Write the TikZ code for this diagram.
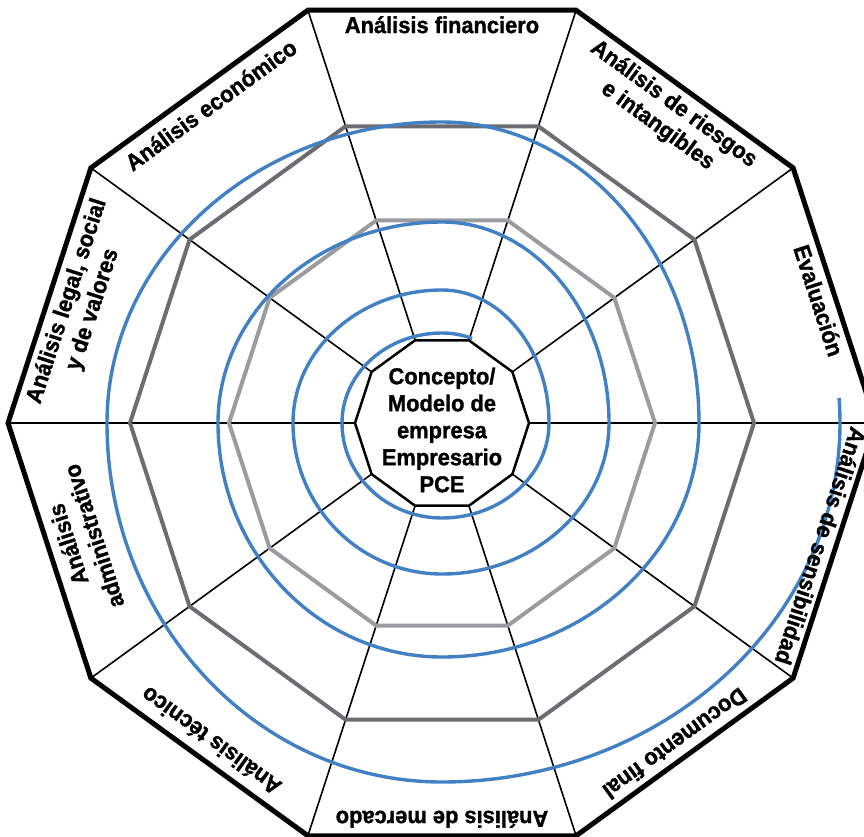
\documentclass[tikz,border=0pt]{standalone}
\usepackage{fontspec}
\setmainfont{Liberation Sans}[BoldFeatures={FakeBold=1.3, FakeStretch=0.95}]
\definecolor{spblue}{RGB}{66,128,196}
\definecolor{dgray}{RGB}{108,109,113}
\definecolor{lgray}{RGB}{155,156,159}
\begin{document}
\begin{tikzpicture}[x=1pt,y=1pt,
  spoke/.style={line width=1.6pt, black},
  graypoly/.style={line width=4pt, line join=miter},
  spiral/.style={line width=3.4pt, spblue},
  outerpoly/.style={line width=5pt, line join=miter, black},
  innerpoly/.style={line width=2.5pt, line join=miter, black, fill=white},
  lbl/.style={anchor=north, inner sep=0pt, align=center, font=\fontsize{23}{27}\selectfont\bfseries},
  ctext/.style={inner sep=0pt, align=center, font=\fontsize{23}{27}\selectfont\bfseries}]
\useasboundingbox (-442,-413) rectangle (422,423);
\foreach \k in {0,...,9} {
  \coordinate (i\k) at ({36*\k}:87);
  \coordinate (o\k) at ({36*\k}:434);
  \coordinate (d\k) at ({36*\k}:312);
  \coordinate (l\k) at ({36*\k}:213);
}
% spokes
\foreach \k in {0,...,9} { \draw[spoke] (i\k) -- (o\k); }
% gray decagons
\draw[graypoly, dgray] (d0) -- (d1) -- (d2) -- (d3) -- (d4) -- (d5) -- (d6) -- (d7) -- (d8) -- (d9) -- cycle;
\draw[graypoly, lgray] (l0) -- (l1) -- (l2) -- (l3) -- (l4) -- (l5) -- (l6) -- (l7) -- (l8) -- (l9) -- cycle;
% spiral
\coordinate (sstart) at (4:398 and 359);
\draw[spiral] (sstart)
  arc[start angle=4, end angle=-90, x radius=398pt, y radius=359pt]
  arc[start angle=-90, end angle=-180, x radius=335pt, y radius=359pt]
  arc[start angle=-180, end angle=-270, x radius=335pt, y radius=301pt]
  arc[start angle=-270, end angle=-360, x radius=257pt, y radius=301pt]
  arc[start angle=0, end angle=-90, x radius=257pt, y radius=234pt]
  arc[start angle=-90, end angle=-180, x radius=224pt, y radius=234pt]
  arc[start angle=-180, end angle=-270, x radius=224pt, y radius=201pt]
  arc[start angle=-270, end angle=-360, x radius=167pt, y radius=201pt]
  arc[start angle=0, end angle=-90, x radius=167pt, y radius=151pt]
  arc[start angle=-90, end angle=-180, x radius=149pt, y radius=151pt]
  arc[start angle=-180, end angle=-270, x radius=149pt, y radius=133pt]
  arc[start angle=-270, end angle=-360, x radius=107pt, y radius=133pt]
  arc[start angle=0, end angle=-90, x radius=107pt, y radius=95pt]
  arc[start angle=-90, end angle=-180, x radius=100pt, y radius=95pt]
  arc[start angle=-180, end angle=-270, x radius=100pt, y radius=90pt]
  arc[start angle=-270, end angle=-290, x radius=88pt, y radius=90pt];
% inner and outer decagons
\draw[innerpoly] (i0) -- (i1) -- (i2) -- (i3) -- (i4) -- (i5) -- (i6) -- (i7) -- (i8) -- (i9) -- cycle;
\draw[outerpoly] (o0) -- (o1) -- (o2) -- (o3) -- (o4) -- (o5) -- (o6) -- (o7) -- (o8) -- (o9) -- cycle;
% centre text
\node[ctext] (centre) at (0,-7) {Concepto/\\Modelo de\\empresa\\Empresario\\PCE};
% labels
\node[lbl, rotate=0]    (lfin) at (90:407)   {Análisis financiero};
\node[lbl, rotate=-36]  (lrie) at (54:405)   {Análisis de riesgos\\e intangibles};
\node[lbl, rotate=-72]  (leva) at (18:405)   {Evaluación};
\node[lbl, rotate=-108] (lsen) at (-18:407)  {Análisis de sensibilidad};
\node[lbl, rotate=-144] (ldoc) at (-54:405)  {Documento final};
\node[lbl, rotate=180]  (lmer) at (-90:405)  {Análisis de mercado};
\node[lbl, rotate=144]  (ltec) at (-126:402) {Análisis técnico};
\node[lbl, rotate=108]  (ladm) at (-162:402) {Análisis\\administrativo};
\node[lbl, rotate=72]   (lleg) at (162:405)  {Análisis legal, social\\y de valores};
\node[lbl, rotate=36]   (leco) at (126:402)  {Análisis económico};
\end{tikzpicture}
\end{document}
